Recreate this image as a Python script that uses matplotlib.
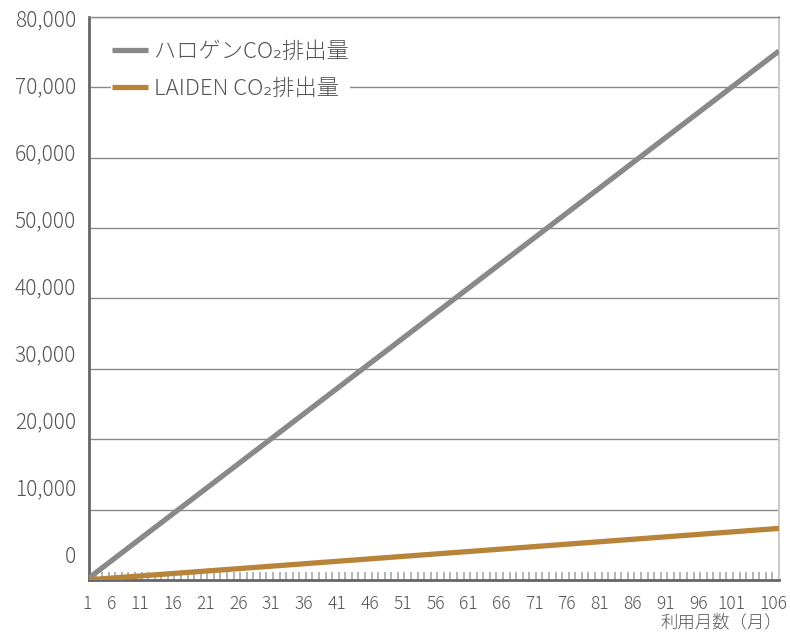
import matplotlib
matplotlib.use("Agg")
import matplotlib.pyplot as plt
from matplotlib.ticker import FixedLocator, MultipleLocator, NullFormatter

plt.rcParams['font.family'] = ['Noto Sans CJK JP', 'DejaVu Sans']

# cumulative CO2 emissions by month of use
months = [1, 6, 11, 16, 21, 26, 31, 36, 41, 46, 51, 56,
          61, 66, 71, 76, 81, 86, 91, 96, 101, 106]
halogen_co2 = [300, 3865, 7430, 10995, 14560, 18125, 21690, 25255, 28820, 32385, 35950,
               39515, 43080, 46645, 50210, 53775, 57340, 60905, 64470, 68035, 71600, 75165]
laiden_co2 = [30, 378, 725, 1073, 1420, 1768, 2115, 2463, 2810, 3158, 3505,
              3853, 4200, 4548, 4895, 5243, 5590, 5938, 6285, 6633, 6980, 7328]
y_ticks = [0, 10000, 20000, 30000, 40000, 50000, 60000, 70000, 80000]

label_halogen = "ハロゲンCO₂排出量"
label_laiden = "LAIDEN CO₂排出量"
x_title = "利用月数（月）"

text_col = "#555555"
PX = 0.72  # points per pixel at 100 dpi

fig = plt.figure(figsize=(7.9, 6.36), dpi=100)
ax = fig.add_axes([0.1127, 0.0881, 0.8734, 0.8852])

ax.plot(months, halogen_co2, color="#898989", lw=3.8, solid_capstyle="butt",
        label=label_halogen, zorder=3)
ax.plot(months, laiden_co2, color="#b8843a", lw=3.8, solid_capstyle="butt",
        label=label_laiden, zorder=3)

ax.set_xlim(1, 106)
ax.set_ylim(0, 80000)

ax.xaxis.set_major_locator(FixedLocator(months))
ax.xaxis.set_minor_locator(MultipleLocator(1))
ax.yaxis.set_major_locator(FixedLocator(y_ticks))
ax.xaxis.set_major_formatter(NullFormatter())
ax.yaxis.set_major_formatter(NullFormatter())

ax.grid(axis="y", color="#8a8a8a", lw=1)
ax.set_axisbelow(True)

ax.tick_params(axis="x", which="both", direction="in", length=6, width=1.1,
               color="#a0a0a0")
ax.tick_params(axis="y", length=0)

# value labels drift a little above their gridlines towards the bottom
for v in y_ticks:
    lift = (-3 + (80000 - v) / 10000 * 3.3) * PX
    ax.annotate(f"{v:,}", xy=(0, v), xycoords=ax.get_yaxis_transform(),
                xytext=(-13 * PX, lift), textcoords="offset points",
                ha="right", va="center", fontsize=15, color=text_col,
                fontweight="light")

# month labels sit slightly left of their ticks, except at the ends
shift_px = {1: -2, 6: -10, 106: -6}
for m in months:
    dx = shift_px.get(m, -15)
    ax.annotate(str(m), xy=(m, 0), xycoords=ax.get_xaxis_transform(),
                xytext=(dx * PX, -24 * PX), textcoords="offset points",
                ha="center", va="center", fontsize=12.5, color=text_col,
                fontweight="light", annotation_clip=False)

for side in ["left", "bottom"]:
    ax.spines[side].set_color("#666666")
    ax.spines[side].set_linewidth(2)
ax.spines["right"].set_color("#cccccc")
ax.spines["right"].set_linewidth(1.5)
ax.spines["top"].set_color("#8a8a8a")
ax.spines["top"].set_linewidth(1)

leg = ax.legend(loc="upper left", bbox_to_anchor=(0.032, 0.960), frameon=True,
                fancybox=False, framealpha=1, edgecolor="none", facecolor="white",
                fontsize=16, handlelength=1.6, handletextpad=0.3,
                labelspacing=0.7, borderpad=0.05, borderaxespad=0)
for t in leg.get_texts():
    t.set_color(text_col)
    t.set_fontweight("light")

fig.text(0.99, 1 - 623 / 636, x_title, ha="right", va="center", fontsize=12.5,
         color=text_col, fontweight="light")

fig.savefig("out.png", dpi=100)
